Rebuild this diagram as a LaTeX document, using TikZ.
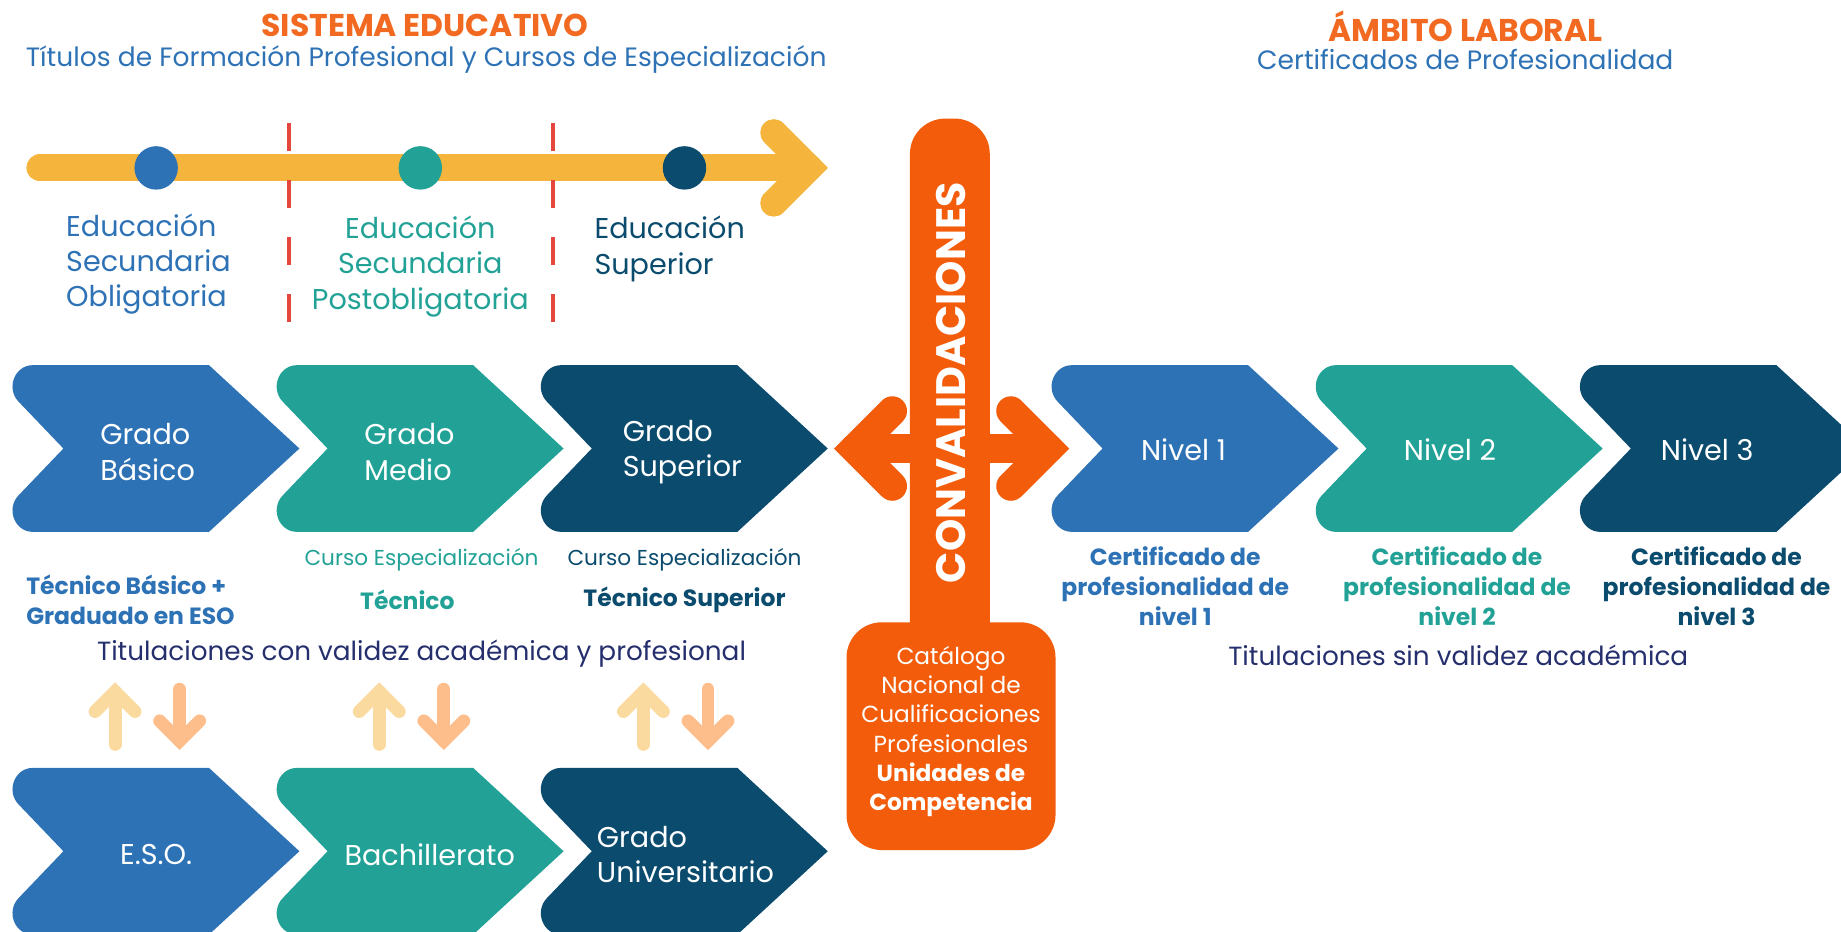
\documentclass[tikz,border=0pt]{standalone}
\usepackage{fontspec}
\setmainfont{Poppins}

\definecolor{cblue}{HTML}{2E72B6}
\definecolor{cteal}{HTML}{22A296}
\definecolor{cnavy}{HTML}{0A4B6E}
\definecolor{corange}{HTML}{F25C0A}
\definecolor{ctitle}{HTML}{F26A21}
\definecolor{cyellow}{HTML}{F5B43C}
\definecolor{cred}{HTML}{E4473B}
\definecolor{cup}{HTML}{FADA9E}
\definecolor{cdown}{HTML}{FDBE8C}
\definecolor{cink}{HTML}{252F6D}

\tikzset{
	pics/chevron/.style={code={
		\fill [#1] (68,71) -- (29.8,31.1) .. controls (18.8,19.6) and (26.5,0) .. (42,0) -- (192,0) -- (269,71)
			-- (192,142) -- (42,142) .. controls (26.5,142) and (18.8,122.4) .. (29.8,110.9) -- cycle;
	}},
	gruesa/.style={line width=11.5pt, line cap=round, line join=miter},
	flecha/.style={line width=5.5pt, line cap=round, line join=miter},
	doble/.style={line width=12.5pt, line cap=round, line join=miter},
	corte/.style={cred, line width=1.65pt, dash pattern=on 12pt off 12.2pt},
	punto/.style={circle, minimum size=18.5pt},
	chevtext/.style={text=white, align=left, font=\fontsize{12.2}{15}\selectfont},
	etapa/.style={align=left, font=\fontsize{12.2}{15}\selectfont},
	titulo/.style={text=ctitle, font=\bfseries\fontsize{13.4}{15}\selectfont},
	subtitulo/.style={text=cblue, font=\fontsize{11.3}{14}\selectfont},
	certif/.style={align=center, font=\bfseries\fontsize{10}{12.8}\selectfont},
	curso/.style={font=\fontsize{9.2}{11}\selectfont},
	resumen/.style={text=cink, font=\fontsize{11.2}{14}\selectfont},
}

\begin{document}
\begin{tikzpicture}[x=0.5pt, y=-0.5pt, every node/.style={inner sep=0pt}]
	\useasboundingbox (0,0) rectangle (1568,793);
	\clip (0,0) rectangle (1568,793);

	% títulos
	\node [titulo] (sistema) at (362,22) {SISTEMA EDUCATIVO};
	\node [subtitulo] (titulos) at (363,51) {Títulos de Formación Profesional y Cursos de Especialización};
	\node [titulo] (ambito) at (1248,22) {ÁMBITO LABORAL};
	\node [subtitulo] (certificados) at (1248,51) {Certificados de Profesionalidad};

	% línea de tiempo
	\coordinate (inicio) at (34,143);
	\coordinate (punta) at (689,143);
	\draw [gruesa, cyellow] (inicio) -- (punta);
	\draw [gruesa, cyellow] (659,113) -- (punta) -- (659,173);
	\draw [corte] (246,105) -- (246,274);
	\draw [corte] (471,105) -- (471,274);
	\node [punto, fill=cblue] (p1) at (133,143) {};
	\node [punto, fill=cteal] (p2) at (358,143) {};
	\node [punto, fill=cnavy] (p3) at (583,143) {};

	\node [etapa, text=cblue, anchor=west] (eso) at (56,225) {Educación\\Secundaria\\Obligatoria};
	\node [etapa, text=cteal, align=center] (post) at (358,227) {Educación\\Secundaria\\Postobligatoria};
	\node [etapa, text=cnavy, anchor=west] (sup) at (506,212) {Educación\\Superior};

	% formación profesional
	\pic at (-14,311) {chevron=cblue};
	\pic at (211,311) {chevron=cteal};
	\pic at (436,311) {chevron=cnavy};
	\node [chevtext, anchor=west] (basico) at (85,385) {Grado\\Básico};
	\node [chevtext, anchor=west] (medio) at (310,385) {Grado\\Medio};
	\node [chevtext, anchor=west] (superior) at (530,385) {Grado\\Superior};

	\node [curso, text=cteal] (curso1) at (359,477) {Curso Especialización};
	\node [curso, text=cnavy] (curso2) at (583,477) {Curso Especialización};
	\node [certif, text=cblue, align=left, anchor=west] (tbasico) at (22,511) {Técnico Básico +\\Graduado en ESO};
	\node [certif, text=cteal] (tecnico) at (347,511) {Técnico};
	\node [certif, text=cnavy] (tsuperior) at (583,511) {Técnico Superior};
	\node [resumen] (con) at (359,557) {Titulaciones con validez académica y profesional};

	% pasarelas
	\foreach \dx in {0,225,450} {
		\draw [flecha, cup] (98+\dx,634) -- (98+\dx,589);
		\draw [flecha, cup] (81+\dx,606) -- (98+\dx,589) -- (115+\dx,606);
		\draw [flecha, cdown] (153+\dx,587) -- (153+\dx,631);
		\draw [flecha, cdown] (136+\dx,614) -- (153+\dx,631) -- (170+\dx,614);
	}

	% enseñanzas generales
	\pic at (-14,654) {chevron=cblue};
	\pic at (211,654) {chevron=cteal};
	\pic at (436,654) {chevron=cnavy};
	\node [chevtext] (eso2) at (133,728) {E.S.O.};
	\node [chevtext] (bach) at (366,728) {Bachillerato};
	\node [chevtext, anchor=west] (univ) at (508,728) {Grado\\Universitario};

	% convalidaciones
	\fill [corange, rounded corners=15pt] (775,101) rectangle (843,560);
	\fill [corange, rounded corners=15pt] (721,530) rectangle (899,724);
	\coordinate (izq) at (728,382);
	\coordinate (der) at (893,382);
	\draw [doble, corange] (izq) -- (der);
	\draw [doble, corange] (760,350) -- (izq) -- (760,414);
	\draw [doble, corange] (861,350) -- (der) -- (861,414);
	\node [rotate=90, text=white, font=\bfseries\fontsize{17.5}{20}\selectfont] (conv) at (810,326) {CONVALIDACIONES};
	\node [align=center, text=white, font=\fontsize{9.9}{12.5}\selectfont] (catalogo) at (810,623) {Catálogo\\Nacional de\\Cualificaciones\\Profesionales\\\textbf{Unidades de}\\\textbf{Competencia}};

	% ámbito laboral
	\pic at (871,311) {chevron=cblue};
	\pic at (1096,311) {chevron=cteal};
	\pic at (1321,311) {chevron=cnavy};
	\node [chevtext] (n1) at (1008,383) {Nivel 1};
	\node [chevtext] (n2) at (1235,383) {Nivel 2};
	\node [chevtext] (n3) at (1454,383) {Nivel 3};
	\node [certif, text=cblue] (c1) at (1001,499) {Certificado de\\profesionalidad de\\nivel 1};
	\node [certif, text=cteal] (c2) at (1241,499) {Certificado de\\profesionalidad de\\nivel 2};
	\node [certif, text=cnavy] (c3) at (1462,499) {Certificado de\\profesionalidad de\\nivel 3};
	\node [resumen] (sin) at (1242,558) {Titulaciones sin validez académica};
\end{tikzpicture}
\end{document}
